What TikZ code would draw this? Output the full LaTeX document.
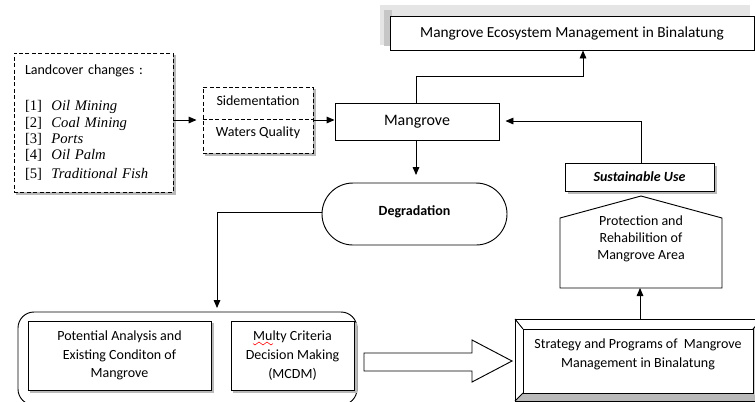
\documentclass[tikz,border=0pt]{standalone}
\usepackage{fontspec}
\setmainfont{Carlito}
\newfontfamily\timesf{Liberation Serif}
\usetikzlibrary{arrows.meta,shapes.misc,calc}
\begin{document}
\begin{tikzpicture}[x=0.75pt,y=-0.75pt,
  font=\fontsize{10.5}{14}\selectfont,
  lw/.style={line width=0.7pt},
  arr/.style={lw,-{Triangle[length=6pt,width=5pt]}},
  boxn/.style={draw,lw,fill=white,inner sep=0pt,align=center},
  dbox/.style={boxn,dashed,dash pattern=on 3pt off 1.8pt},
  shad/.style={fill=gray!55,draw=none}]
\clip (0,0) rectangle (755,401);
\fill[white] (0,0) rectangle (755,401);

% top box
\fill[gray!20] (380,5) rectangle (750,45);
\fill[gray!45] (384,10) rectangle (392,46);
\node[boxn,minimum width=364*0.75pt,minimum height=34*0.75pt,font=\fontsize{11.5}{14}\selectfont] (top) at (572,33) {Mangrove Ecosystem Management in Binalatung};

% landcover box
\fill[shad] (16,55) rectangle (176,195);
\node[dbox,minimum width=159*0.75pt,minimum height=139*0.75pt,text width=137*0.75pt,inner xsep=8.25pt,align=left] (land) at (93.5,122.5)
{Landcover changes :\\[15pt]
{\timesf\fontsize{11}{12.2}\selectfont [1]\ \ \textit{Oil Mining}\\
{[2]}\ \ \textit{Coal Mining}\\
{[3]}\ \ \textit{Ports}\\
{[4]}\ \ \textit{Oil Palm}\\
{[5]}\ \ \textit{Traditional Fish}}};

% sedimentation / water quality
\fill[shad] (205,89) rectangle (316,156);
\node[dbox,minimum width=110*0.75pt,minimum height=66*0.75pt] (sw) at (258,120) {};
\draw[lw,dashed,dash pattern=on 3pt off 1.8pt] (sw.west |- 0,119) coordinate (swl) -- (sw.east |- 0,119) coordinate (swr);
\node (sed) at (258,101) {Sidementation};
\node (wq) at (258,133) {Waters Quality};

% Mangrove
\node[boxn,minimum width=164*0.75pt,minimum height=37*0.75pt,font=\fontsize{12}{14}\selectfont] (mang) at (417,121.5) {Mangrove};

% Degradation
\node[draw,lw,rounded rectangle,minimum width=185*0.75pt,minimum height=62*0.75pt,inner sep=0pt,font=\bfseries\fontsize{10.5}{14}\selectfont] (deg) at (414.5,214) {\raisebox{4.5pt}{Degradation}};

% bottom container
\draw[lw,rounded corners=12pt] (18,312) rectangle (357,405);
\coordinate (cont) at (187.5,312);
\fill[shad] (30,323) rectangle (214,393);
\node[boxn,minimum width=183*0.75pt,minimum height=69*0.75pt] (pot) at (119.5,355.5) {Potential Analysis and\\Existing Conditon of\\Mangrove};
\fill[shad] (233,323) rectangle (357,393);
\node[boxn,minimum width=123*0.75pt,minimum height=69*0.75pt] (mcdm) at (292.5,355.5) {Multy Criteria\\Decision Making\\(MCDM)};
\draw[red,line width=0.4pt] (253,343.5) sin (255,345) cos (257,343.5) sin (259,342) cos (261,343.5) sin (263,345) cos (265,343.5) sin (267,342) cos (269,343.5) sin (271,345) cos (273,343.5);

% hollow arrow
\draw[lw,fill=white] (364,353) -- (472,353) -- (472,340) -- (512,361) -- (472,382) -- (472,371) -- (364,371) -- cycle;

% strategy bevel box
\draw[lw,fill=white] (515,319) rectangle (762,401);
\fill[gray!55] (515,401) -- (523,393) -- (753,393) -- (762,401) -- cycle;
\fill[gray!35] (762,319) -- (753,329) -- (753,393) -- (762,401) -- cycle;
\draw[lw] (515,319) rectangle (762,401);
\draw[lw] (515,319) -- (523,329) (515,401) -- (523,393) (762,319) -- (753,329);
\node[boxn,minimum width=230*0.75pt,minimum height=64*0.75pt] (strat) at (638,361) {};
\node[align=center] (strattxt) at (638,354) {Strategy and Programs of\ \ Mangrove\\Management in Binalatung};
\coordinate (stratN) at (640,319);

% protection pentagon
\draw[lw,fill=white] (560,288) -- (560,218) -- (641,196) -- (722,218) -- (722,288) -- cycle;
\node[align=center,font=\fontsize{10.5}{12.8}\selectfont] (prot) at (641,239) {Protection and\\Rehabilition of\\Mangrove Area};
\coordinate (protS) at (640,288);

% sustainable use
\fill[gray!55] (568,166) rectangle (717,194);
\node[boxn,minimum width=149*0.75pt,minimum height=28*0.75pt,font=\bfseries\itshape\fontsize{10.5}{14}\selectfont] (sus) at (639.5,177) {Sustainable Use};

% connectors
\draw[arr] (land.east |- 0,120) -- ($(sw.west |- 0,120)+(-6,0)$);
\draw[arr] (sw.east |- 0,120) -- (mang.west |- 0,120);
\draw[arr] (mang.north -| 416,0) -- (416,76) -- (583,76) -- (top.south -| 583,0);
\draw[arr] (sus.north -| 641,0) -- (641,121) -- ($(mang.east |- 0,121)+(6,0)$);
\draw[arr] (mang.south -| 416,0) -- (416,175);
\draw[arr] (deg.west |- 0,212) -- (217,212) -- (217,308);
\draw[arr] (stratN) -- (protS);
\end{tikzpicture}
\end{document}
